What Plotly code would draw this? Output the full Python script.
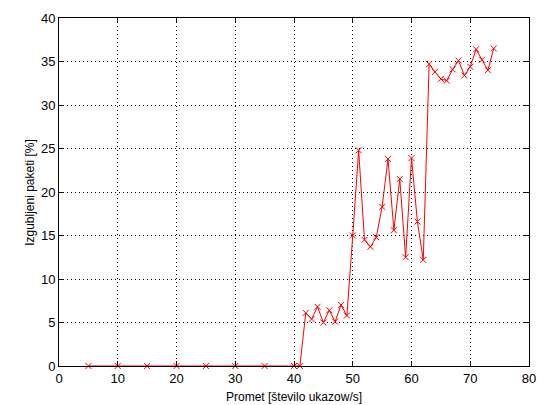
import plotly.graph_objects as go

promet = [5, 10, 15, 20, 25, 30, 35, 40, 41,
          42, 43, 44, 45, 46, 47, 48, 49,
          50, 51, 52, 53, 54, 55, 56, 57, 58, 59, 60, 61, 62,
          63, 64, 65, 66, 67, 68, 69, 70, 71, 72, 73, 74]
izgubljeni = [0, 0, 0, 0, 0, 0, 0, 0, 0,
              6.1, 5.4, 6.8, 5.0, 6.4, 5.1, 7.0, 5.8,
              15.0, 24.8, 14.5, 13.7, 14.8, 18.3, 23.8, 15.6, 21.5, 12.5, 23.9, 16.6, 12.2,
              34.7, 33.8, 33.0, 32.8, 34.1, 35.1, 33.4, 34.4, 36.4, 35.2, 34.0, 36.5]

x_ticks = [0, 10, 20, 30, 40, 50, 60, 70, 80]
y_ticks = [0, 5, 10, 15, 20, 25, 30, 35, 40]
x_title = "Promet [število ukazow/s]"
y_title = "Izgubljeni paketi [%]"

fig = go.Figure()
fig.add_trace(go.Scatter(
    x=promet, y=izgubljeni, mode="lines+markers",
    line=dict(color="red", width=1),
    marker=dict(symbol="x-thin", size=6, line=dict(color="red", width=1), color="red"),
    cliponaxis=False, showlegend=False,
))

axis_common = dict(
    showline=True, linecolor="black", linewidth=1, mirror="ticks",
    ticks="inside", ticklen=5, tickcolor="black",
    showgrid=True, gridcolor="black", gridwidth=1, griddash="1px,3px",
    zeroline=False, automargin=False,
    tickfont=dict(family="Liberation Sans, Arial", size=13, color="black"),
)

fig.update_xaxes(range=[0, 80], tickvals=x_ticks, ticktext=[str(v) for v in x_ticks], **axis_common)
fig.update_yaxes(range=[0, 40], tickvals=y_ticks, ticktext=[str(v) for v in y_ticks], **axis_common)

title_font = dict(family="Liberation Sans, Arial", size=12, color="black")
fig.add_annotation(text=x_title, xref="paper", yref="paper", x=0.5, y=-0.089,
                   xanchor="center", yanchor="middle", showarrow=False, font=title_font)
fig.add_annotation(text=y_title, xref="paper", yref="paper", x=-0.062, y=0.5,
                   xanchor="center", yanchor="middle", textangle=-90, showarrow=False, font=title_font)

fig.update_layout(
    width=539, height=405,
    margin=dict(l=59, r=10, t=18, b=39),
    paper_bgcolor="white", plot_bgcolor="white",
)

fig.write_html("out.html")
